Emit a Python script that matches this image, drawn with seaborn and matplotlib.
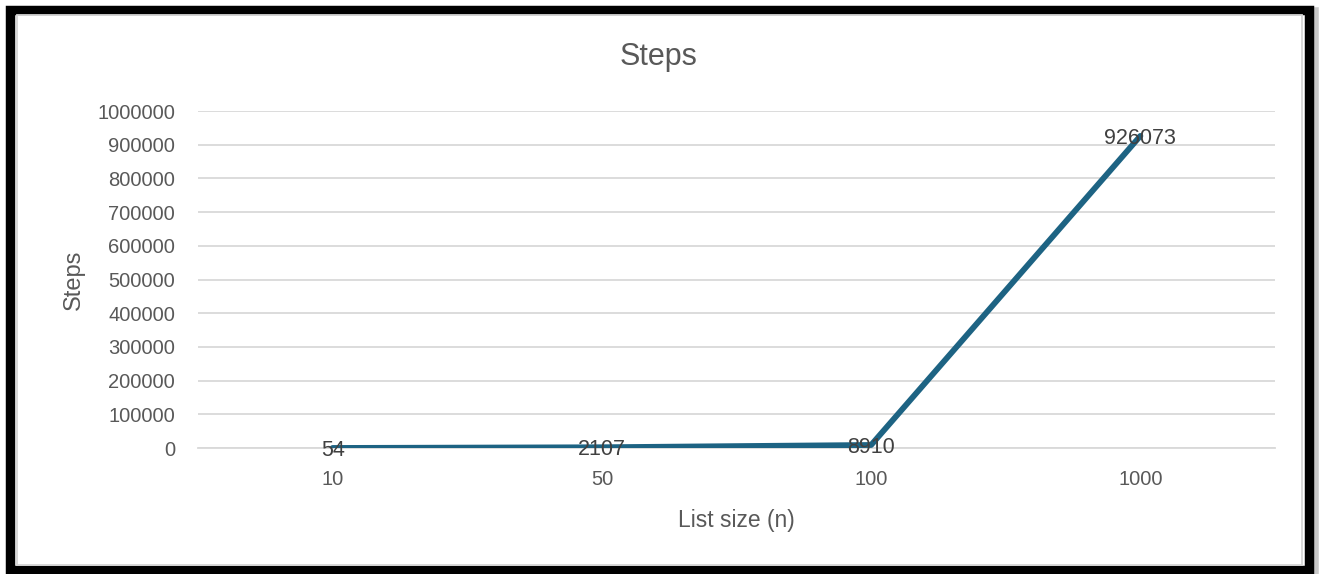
import matplotlib
matplotlib.use("Agg")
import matplotlib.pyplot as plt
import matplotlib.patches as mpatches
import seaborn as sns
import pandas as pd

list_sizes = ["10", "50", "100", "1000"]
steps = [54, 2107, 8910, 926073]
y_ticks = list(range(0, 1000001, 100000))

sns.set_theme(style="white")
plt.rcParams["font.family"] = ["Liberation Sans", "DejaVu Sans"]

W, H = 1319, 574
fig = plt.figure(figsize=(W / 100, H / 100), dpi=100)
fig.patch.set_facecolor("white")

# outer frame: thick black border with a thin grey inner edge and soft shadow
fig.patches.append(mpatches.Rectangle((12 / W, (H - 574) / H + 1 / H), (1316 - 12) / W, (574 - 11) / H,
                                      transform=fig.transFigure, fill=False,
                                      edgecolor="#c8c8c8", linewidth=4, zorder=0))
fig.patches.append(mpatches.Rectangle((10 / W, (H - 570) / H), (1308.5 - 10) / W, (570 - 9.5) / H,
                                      transform=fig.transFigure, fill=False,
                                      edgecolor="black", linewidth=6.8, zorder=1))
fig.patches.append(mpatches.Rectangle((16.5 / W, (H - 564.5) / H), (1302 - 16.5) / W, (564.5 - 15) / H,
                                      transform=fig.transFigure, fill=False,
                                      edgecolor="#d4d4d4", linewidth=1.3, zorder=1))

ax = fig.add_axes([198 / W, (H - 448) / H, (1275 - 198) / W, (448 - 111) / H])

df = pd.DataFrame({"List size (n)": list_sizes, "Steps": steps})
sns.lineplot(data=df, x="List size (n)", y="Steps", sort=False, ax=ax,
             color="#1d6383", linewidth=4.2, zorder=3)

ax.set_xlim(-0.5, len(list_sizes) - 0.5)
ax.set_ylim(0, 1000000)
ax.set_yticks(y_ticks)
ax.set_yticklabels([str(v) for v in y_ticks])
ax.yaxis.grid(True, color="#d9d9d9", linewidth=1.3)
ax.xaxis.grid(False)
for s in ["top", "right", "left"]:
    ax.spines[s].set_visible(False)
ax.spines["bottom"].set_color("#d9d9d9")
ax.spines["bottom"].set_linewidth(1.3)
ax.tick_params(axis="y", length=0, pad=16.5, labelsize=14.5, labelcolor="#595959")
ax.tick_params(axis="x", length=0, pad=16, labelsize=14.5, labelcolor="#595959")

for i, v in enumerate(steps):
    ax.text(i, v, str(v), ha="center", va="center_baseline", fontsize=15.5,
            color="#404040", zorder=4)

ax.set_xlabel("List size (n)", fontsize=16.5, color="#595959", labelpad=14)
ax.set_ylabel("Steps", fontsize=17, color="#595959", labelpad=9)
fig.text(659 / W, (H - 57) / H, "Steps", ha="center", va="center",
         fontsize=22, color="#595959")

fig.savefig("out.png", dpi=100)
